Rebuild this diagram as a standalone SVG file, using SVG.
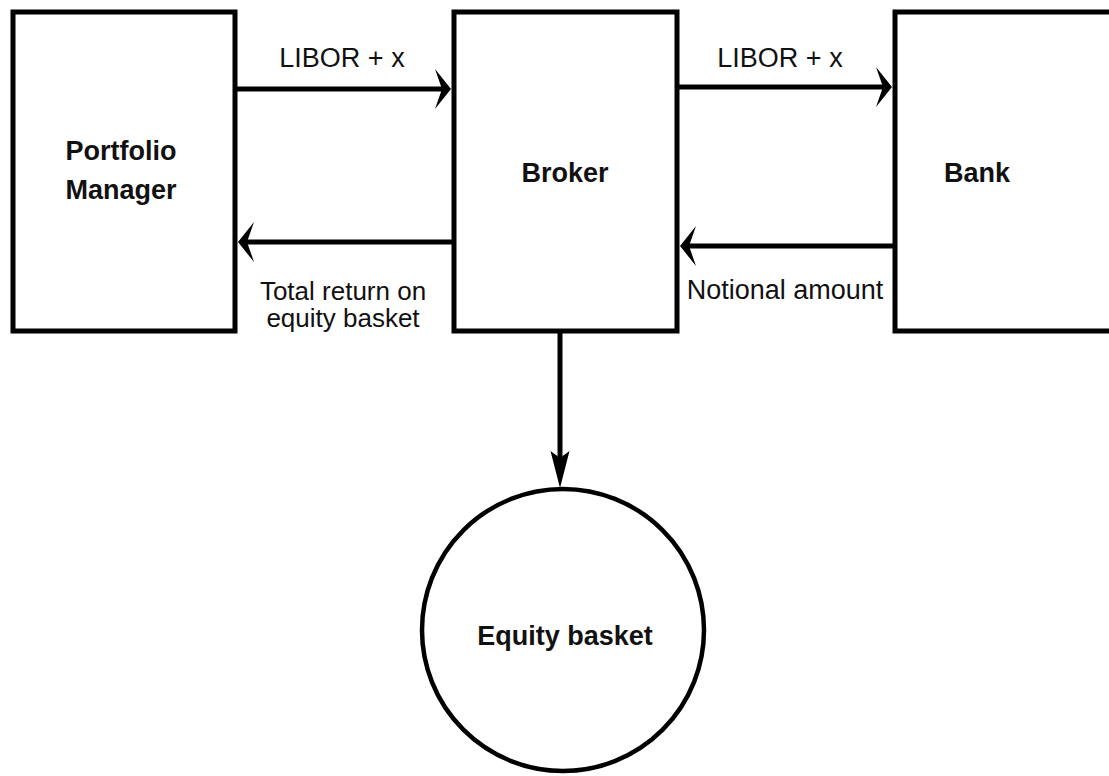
<svg xmlns="http://www.w3.org/2000/svg" width="1109" height="776" viewBox="0 0 1109 776">
<style>
.box{fill:#fff;stroke:#000;stroke-width:5}
.circ{fill:#fff;stroke:#000;stroke-width:4.5}
.lbl{font-family:"Liberation Sans",Arial,sans-serif;font-size:27px;fill:#111;text-anchor:middle}
.sm{font-size:26px}
.bold{font-weight:bold}
.edge{stroke:#000;stroke-width:5;fill:none}
</style>
<defs>
<marker id="ah" markerUnits="userSpaceOnUse" orient="auto" refX="6" refY="0" markerWidth="40" markerHeight="50" overflow="visible">
<path d="M15,0 L-1,-20 L6,0 L-1,20 Z" fill="#000"/>
</marker>
<marker id="av" markerUnits="userSpaceOnUse" orient="auto" refX="7" refY="0" markerWidth="50" markerHeight="30" overflow="visible">
<path d="M37,0 L0,-9.5 L7,0 L0,9.5 Z" fill="#000"/>
</marker>
</defs>
<rect width="1109" height="776" fill="#fff"/>
<g id="connectors">
<line class="edge" x1="235" y1="89" x2="442" y2="89" marker-end="url(#ah)"/>
<line class="edge" x1="454" y1="242" x2="247" y2="242" marker-end="url(#ah)"/>
<line class="edge" x1="677" y1="87" x2="883" y2="87" marker-end="url(#ah)"/>
<line class="edge" x1="895" y1="246" x2="689" y2="246" marker-end="url(#ah)"/>
<line class="edge" x1="560" y1="331" x2="560" y2="458" marker-end="url(#av)"/>
<text class="lbl" x="342" y="67">LIBOR + x</text>
<text class="lbl sm" x="343" y="300">Total return on</text>
<text class="lbl sm" x="343" y="327">equity basket</text>
<text class="lbl" x="780" y="67">LIBOR + x</text>
<text class="lbl" x="785" y="299">Notional amount</text>
</g>
<g id="portfolio-manager">
<rect class="box" x="13" y="12" width="222" height="319"/>
<text class="lbl bold" x="121" y="160">Portfolio</text>
<text class="lbl bold" x="121" y="199">Manager</text>
</g>
<g id="broker">
<rect class="box" x="454" y="12" width="223" height="319"/>
<text class="lbl bold" x="565" y="182">Broker</text>
</g>
<g id="bank">
<rect class="box" x="895" y="12" width="225" height="319"/>
<text class="lbl bold" x="977" y="182">Bank</text>
</g>
<g id="equity-basket">
<circle class="circ" cx="563" cy="630" r="141"/>
<text class="lbl bold" x="565" y="645">Equity basket</text>
</g>
</svg>
